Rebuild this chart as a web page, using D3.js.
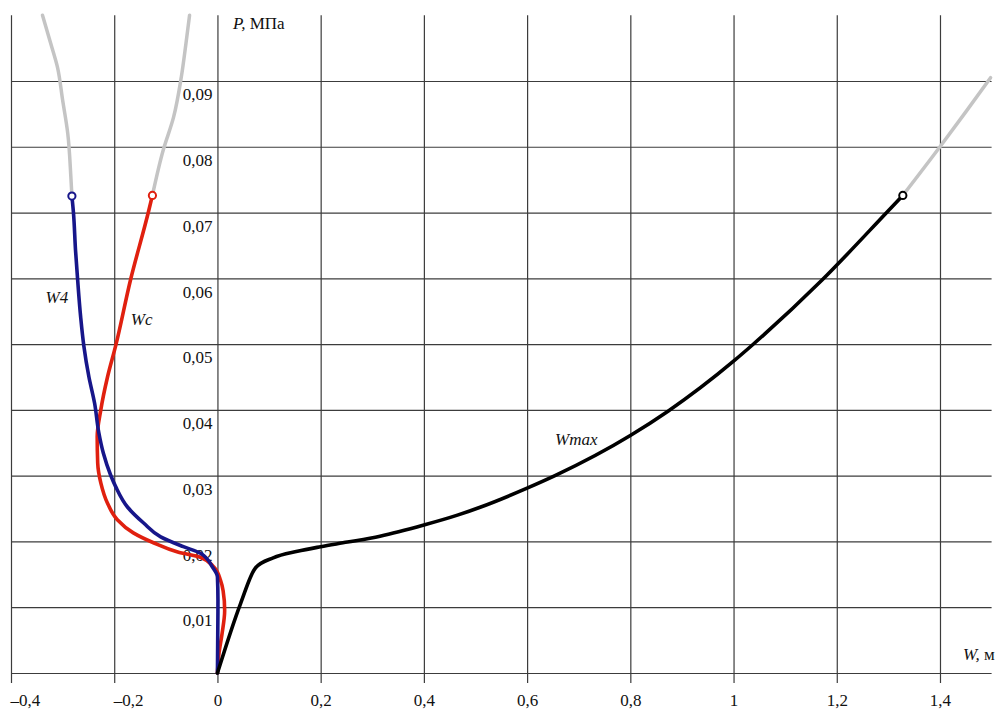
<!DOCTYPE html>
<html>
<head>
<meta charset="utf-8">
<script src="https://cdn.jsdelivr.net/npm/d3@7"></script>
<style>
	body { margin: 0; background: #ffffff; }
	text { font-family: "Liberation Serif", "Times New Roman", serif; fill: #111; }
</style>
</head>
<body>
<div id="graph"></div>
<script>

var svgWidth = 996;		// width of the svg element
var svgHeight = 709;	// height of the svg element

// axis ticks
var xTicks = [-0.4, -0.2, 0, 0.2, 0.4, 0.6, 0.8, 1, 1.2, 1.4];
var yTicks = [0, 0.01, 0.02, 0.03, 0.04, 0.05, 0.06, 0.07, 0.08, 0.09];
var yLabelTicks = [0.01, 0.02, 0.03, 0.04, 0.05, 0.06, 0.07, 0.08, 0.09];

// Wmax curve (W, m / P, MPa)
var wmaxW = [0, 0.045, 0.074, 0.108, 0.155, 0.2, 0.252, 0.315, 0.4, 0.465, 0.509, 0.6, 0.654, 0.8, 0.873, 1.0, 1.037, 1.171, 1.299, 1.328];
var wmaxP = [0, 0.0106, 0.016, 0.0175, 0.0185, 0.0192, 0.0199, 0.0208, 0.0225, 0.0240, 0.0252, 0.0281, 0.0300, 0.0361, 0.0398, 0.0474, 0.0499, 0.0597, 0.0702, 0.0726];
var wmaxGreyW = [1.328, 1.4, 1.45, 1.498];
var wmaxGreyP = [0.0726, 0.080, 0.0853, 0.0905];

// W4 curve
var w4W = [0, 0.001, 0.0, -0.0097, -0.033, -0.066, -0.110, -0.143, -0.174, -0.197, -0.207, -0.221, -0.230, -0.238, -0.249, -0.259, -0.265, -0.271, -0.275, -0.279, -0.282];
var w4P = [0, 0.0111, 0.0146, 0.0161, 0.0182, 0.0192, 0.0207, 0.0228, 0.0252, 0.0283, 0.0301, 0.0334, 0.0366, 0.041, 0.045, 0.0498, 0.0541, 0.0599, 0.0643, 0.070, 0.0725];
var w4GreyW = [-0.282, -0.284, -0.290, -0.300, -0.310, -0.323, -0.339];
var w4GreyP = [0.0725, 0.0754, 0.082, 0.0871, 0.0921, 0.0957, 0.1];

// Wc curve
var wcW = [0, 0.003, 0.009, 0.014, 0.011, 0.006, -0.007, -0.033, -0.077, -0.124, -0.163, -0.194, -0.213, -0.226, -0.232, -0.233, -0.226, -0.213, -0.197, -0.168, -0.134, -0.126];
var wcP = [0, 0.003, 0.006, 0.0095, 0.0125, 0.0141, 0.0161, 0.0176, 0.0184, 0.0198, 0.0213, 0.0233, 0.0258, 0.0289, 0.0319, 0.0359, 0.040, 0.045, 0.0498, 0.0599, 0.070, 0.0726];
var wcGreyW = [-0.126, -0.105, -0.085, -0.070, -0.061, -0.054];
var wcGreyP = [0.0726, 0.0795, 0.0845, 0.0906, 0.0957, 0.1];

// curve labels
var labelText = ["W4", "Wc", "Wmax"];
var labelW = [-0.333, -0.168, 0.654];
var labelP = [0.0562, 0.0529, 0.0347];

function zip(ws, ps) {
	return ws.map(function(w, i) { return [w, ps[i]]; });
}

// scales
var x = d3.scaleLinear().domain([-0.4, 1.5]).range([11, 991.6]);
var y = d3.scaleLinear().domain([0, 0.1]).range([673, 15.2]);

var svg = d3.select("#graph")
	.append("svg")
	.attr("width", svgWidth)
	.attr("height", svgHeight);

svg.append("rect")
	.attr("width", svgWidth)
	.attr("height", svgHeight)
	.attr("fill", "#ffffff");

function comma(d) {
	var s = d3.format("~g")(Math.abs(d)).replace(".", ",");
	return (d < 0 ? "\u2013" : "") + s;
}

// horizontal grid (including the W axis line)
var yGrid = svg.append("g")
	.attr("transform", "translate(" + x(-0.4) + ",0)")
	.call(d3.axisLeft(y)
		.tickValues(yTicks)
		.tickSize(-(x(1.5) - x(-0.4)))
		.tickFormat(""));
yGrid.select(".domain").remove();
yGrid.selectAll("line").attr("stroke", "#3c3c3c").attr("stroke-width", 1.2);

// vertical grid + x tick labels
var xAxis = svg.append("g")
	.attr("transform", "translate(0," + y(0.1) + ")")
	.call(d3.axisBottom(x)
		.tickValues(xTicks)
		.tickSize(683 - y(0.1))
		.tickPadding(11)
		.tickFormat(comma));
xAxis.select(".domain").remove();
xAxis.selectAll("line").attr("stroke", "#3c3c3c").attr("stroke-width", 1.2);
xAxis.selectAll("text")
	.attr("font-size", 17)
	.attr("fill", "#111")
	.attr("text-anchor", function(d) { return d < 0 ? "start" : "middle"; })
	.attr("dx", function(d) { return d < 0 ? -1 : 0; });

// P tick labels, sitting below each grid line left of the P axis
var yAxis = svg.append("g")
	.attr("transform", "translate(" + x(0) + ",0)")
	.call(d3.axisLeft(y)
		.tickValues(yLabelTicks)
		.tickSize(0)
		.tickPadding(5)
		.tickFormat(function(d) { return d3.format(".2f")(d).replace(".", ","); }));
yAxis.select(".domain").remove();
yAxis.selectAll("text")
	.attr("font-size", 17)
	.attr("fill", "#111")
	.attr("dy", "1.1em");

// axis titles
var pTitle = svg.append("text")
	.attr("x", 233)
	.attr("y", 29)
	.attr("font-size", 17);
pTitle.append("tspan").attr("font-style", "italic").text("P,");
pTitle.append("tspan").text(" МПа");

var wTitle = svg.append("text")
	.attr("x", 963)
	.attr("y", 660)
	.attr("font-size", 17);
wTitle.append("tspan").attr("font-style", "italic").text("W,");
wTitle.append("tspan").text(" м");

// line generators
var lineX = d3.line()
	.x(function(d) { return x(d[0]); })
	.y(function(d) { return y(d[1]); })
	.curve(d3.curveMonotoneX);
var lineY = d3.line()
	.x(function(d) { return x(d[0]); })
	.y(function(d) { return y(d[1]); })
	.curve(d3.curveMonotoneY);

var curves = svg.append("g").attr("fill", "none").attr("stroke-linecap", "round").attr("stroke-linejoin", "round");

// grey continuations
curves.append("path").attr("d", lineY(zip(w4GreyW, w4GreyP))).attr("stroke", "#c4c4c4").attr("stroke-width", 3.5);
curves.append("path").attr("d", lineY(zip(wcGreyW, wcGreyP))).attr("stroke", "#c4c4c4").attr("stroke-width", 3.5);
curves.append("path").attr("d", lineX(zip(wmaxGreyW, wmaxGreyP))).attr("stroke", "#c4c4c4").attr("stroke-width", 3.5);

// main curves
curves.append("path").attr("d", lineY(zip(wcW, wcP))).attr("stroke", "#e0200f").attr("stroke-width", 3.6);
curves.append("path").attr("d", lineY(zip(w4W, w4P))).attr("stroke", "#17168a").attr("stroke-width", 3.6);
curves.append("path").attr("d", lineX(zip(wmaxW, wmaxP))).attr("stroke", "#000000").attr("stroke-width", 3.6);

// end markers
var ends = [
	[w4W[w4W.length - 1], w4P[w4P.length - 1], "#17168a"],
	[wcW[wcW.length - 1], wcP[wcP.length - 1], "#e0200f"],
	[wmaxW[wmaxW.length - 1], wmaxP[wmaxP.length - 1], "#000000"]
];
svg.selectAll("circle.end")
	.data(ends)
	.enter().append("circle")
	.attr("class", "end")
	.attr("cx", function(d) { return x(d[0]); })
	.attr("cy", function(d) { return y(d[1]); })
	.attr("r", 3.6)
	.attr("fill", "#ffffff")
	.attr("stroke", function(d) { return d[2]; })
	.attr("stroke-width", 2);

// curve labels
svg.selectAll("text.curvelabel")
	.data(labelText)
	.enter().append("text")
	.attr("class", "curvelabel")
	.attr("x", function(d, i) { return x(labelW[i]); })
	.attr("y", function(d, i) { return y(labelP[i]); })
	.attr("font-size", 17)
	.attr("font-style", "italic")
	.text(function(d) { return d; });

</script>
</body>
</html>
